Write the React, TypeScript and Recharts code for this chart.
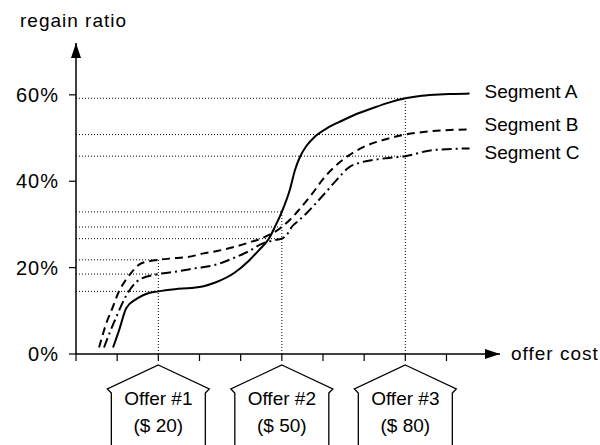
import { LineChart, Line, XAxis, YAxis, ReferenceLine, ReferenceDot, LabelList } from "recharts";

const segmentNames = ["Segment A", "Segment B", "Segment C"];

// offer cost ($) vs regain ratio (%)
const segA = [
  { x: 9, y: 1.5 }, { x: 10.5, y: 5.6 }, { x: 12.2, y: 10.6 }, { x: 14.6, y: 12.7 },
  { x: 17, y: 13.9 }, { x: 20, y: 14.5 }, { x: 24, y: 15.0 }, { x: 28, y: 15.3 },
  { x: 31, y: 15.7 }, { x: 34, y: 16.6 }, { x: 38.5, y: 18.8 }, { x: 42, y: 21.6 },
  { x: 44.4, y: 24 }, { x: 46.8, y: 26.6 }, { x: 48.3, y: 29.4 }, { x: 50, y: 32.9 },
  { x: 52, y: 38.2 }, { x: 53.2, y: 42.6 }, { x: 54.4, y: 45.6 }, { x: 56, y: 48.2 },
  { x: 58, y: 50.3 }, { x: 61, y: 52.3 }, { x: 64.6, y: 54.0 }, { x: 68, y: 55.5 },
  { x: 72, y: 56.9 }, { x: 76, y: 58.2 }, { x: 80, y: 59.2 }, { x: 84, y: 59.8 },
  { x: 88.3, y: 60.1 }, { x: 92, y: 60.2 }, { x: 95.6, y: 60.3 },
];
const segB = [
  { x: 5.6, y: 1.5 }, { x: 6.5, y: 4.5 }, { x: 7.5, y: 7.5 }, { x: 8.5, y: 9.8 },
  { x: 10.5, y: 14.6 }, { x: 12, y: 17 }, { x: 13.4, y: 18.8 }, { x: 15.9, y: 21.0 },
  { x: 20, y: 21.8 }, { x: 24, y: 22.2 }, { x: 28, y: 22.6 }, { x: 31, y: 23.3 },
  { x: 34, y: 23.8 }, { x: 38.5, y: 24.8 }, { x: 42, y: 25.8 }, { x: 45.9, y: 27.1 },
  { x: 50, y: 29.4 }, { x: 52.4, y: 31.5 }, { x: 54.1, y: 33.3 }, { x: 57.3, y: 37.0 },
  { x: 60, y: 40.5 }, { x: 63, y: 43.5 }, { x: 66.3, y: 46 }, { x: 70, y: 48 },
  { x: 74.4, y: 49.5 }, { x: 80, y: 50.8 }, { x: 86.6, y: 51.6 }, { x: 95.6, y: 52 },
];
const segC = [
  { x: 6.8, y: 1.5 }, { x: 8, y: 4.5 }, { x: 9.8, y: 8.6 }, { x: 12.2, y: 13.5 },
  { x: 15.4, y: 17.2 }, { x: 20, y: 18.5 }, { x: 23.7, y: 19.0 }, { x: 29.3, y: 19.9 },
  { x: 33.7, y: 20.6 }, { x: 38.5, y: 22.3 }, { x: 42, y: 23.8 }, { x: 45.1, y: 25.5 },
  { x: 48, y: 26.3 }, { x: 50, y: 26.7 }, { x: 51.5, y: 28 }, { x: 52.4, y: 29.4 },
  { x: 54, y: 30.8 }, { x: 56, y: 32.6 }, { x: 58, y: 34.6 }, { x: 61, y: 37.8 },
  { x: 63.5, y: 40.5 }, { x: 66.3, y: 43.2 }, { x: 69, y: 44.3 }, { x: 72, y: 44.9 },
  { x: 76, y: 45.4 }, { x: 80, y: 45.8 }, { x: 86.6, y: 47.2 }, { x: 95.6, y: 47.6 },
];

const offerCosts = [20, 50, 80];
const offerNames = ["Offer #1", "Offer #2", "Offer #3"];
const offerPrices = ["($ 20)", "($ 50)", "($ 80)"];
// regain ratio of each segment at each offer (dotted guides)
const offerA = [14.5, 32.9, 59.2];
const offerB = [21.8, 29.4, 50.8];
const offerC = [18.5, 26.7, 45.8];

const xTicks = [0, 10, 20, 30, 40, 50, 60, 70, 80, 90];
const yTicks = [0, 20, 40, 60];

const X_MAX = 103;
const Y_MAX = 72;
const FONT = "'Liberation Sans', Arial, sans-serif";

const series = [
  { name: segmentNames[0], data: segA, dash: undefined, dy: 4 },
  { name: segmentNames[1], data: segB, dash: "8 5", dy: 2 },
  { name: segmentNames[2], data: segC, dash: "10 4 2 4", dy: 11 },
];

function OfferBox(props: any) {
  const { cx, cy, name, price } = props;
  const pts = [[0, 11], [51, 35], [47, 39], [47, 92], [-47, 92], [-47, 39], [-51, 35]]
    .map(([dx, dy]) => `${cx + dx},${cy + dy}`)
    .join(" ");
  return (
    <g>
      <polygon points={pts} fill="#fff" stroke="#000" strokeWidth={1.3} />
      <text x={cx} y={cy + 51} textAnchor="middle" fontSize={19} fontFamily={FONT} fill="#000">
        {name}
      </text>
      <text x={cx} y={cy + 78} textAnchor="middle" fontSize={19} fontFamily={FONT} fill="#000">
        {price}
      </text>
    </g>
  );
}

function YArrow(props: any) {
  const { cx, cy } = props;
  return (
    <g>
      <polygon points={`${cx},${cy} ${cx - 5},${cy + 15} ${cx + 5},${cy + 15}`} fill="#000" />
      <text x={cx - 56} y={cy - 16} fontSize={19} letterSpacing={1} fontFamily={FONT} fill="#000">
        regain ratio
      </text>
    </g>
  );
}

function XArrow(props: any) {
  const { cx, cy } = props;
  return (
    <g>
      <polygon points={`${cx},${cy} ${cx - 15},${cy - 5} ${cx - 15},${cy + 5}`} fill="#000" />
      <text x={cx + 11} y={cy + 6} fontSize={19} letterSpacing={1} fontFamily={FONT} fill="#000">
        offer cost
      </text>
    </g>
  );
}

export default function App() {
  const dotted = { stroke: "#000", strokeWidth: 1, strokeDasharray: "1 2" };
  return (
    <div style={{ position: "absolute", left: 0, top: 0, width: 600, height: 445, background: "#fff" }}>
      <LineChart width={600} height={445} margin={{ top: 43, right: 100, bottom: 61, left: 0 }}>
        <XAxis
          type="number"
          dataKey="x"
          domain={[0, X_MAX]}
          ticks={xTicks}
          tickFormatter={() => ""}
          height={30}
          tickSize={7}
          axisLine={{ stroke: "#000", strokeWidth: 1.5 }}
          tickLine={{ stroke: "#000", strokeWidth: 1.2 }}
          allowDataOverflow
        />
        <YAxis
          type="number"
          domain={[0, Y_MAX]}
          ticks={yTicks}
          width={76}
          tickSize={7}
          tickMargin={10}
          tickFormatter={(v) => `${v}%`}
          tick={{ fontSize: 20, fill: "#000", fontFamily: FONT, letterSpacing: 1 }}
          axisLine={{ stroke: "#000", strokeWidth: 1.5 }}
          tickLine={{ stroke: "#000", strokeWidth: 1.2 }}
          allowDataOverflow
        />
        {offerCosts.map((c, i) => {
          const vals = [offerA[i], offerB[i], offerC[i]];
          return [
            <ReferenceLine
              key={`v${i}`}
              segment={[{ x: c, y: 0 }, { x: c, y: Math.max(...vals) }]}
              {...dotted}
            />,
            ...vals.map((v, j) => (
              <ReferenceLine key={`h${i}-${j}`} segment={[{ x: 0, y: v }, { x: c, y: v }]} {...dotted} />
            )),
          ];
        })}
        {series.map((s) => (
          <Line
            key={s.name}
            data={s.data}
            dataKey="y"
            name={s.name}
            type="monotone"
            stroke="#000"
            strokeWidth={2}
            strokeDasharray={s.dash}
            dot={false}
            activeDot={false}
            isAnimationActive={false}
          >
            <LabelList
              dataKey="y"
              content={(p: any) =>
                p.index === s.data.length - 1 ? (
                  <text x={Number(p.x) + 15} y={Number(p.y) + s.dy} fontSize={19} fontFamily={FONT} fill="#000">
                    {s.name}
                  </text>
                ) : null
              }
            />
          </Line>
        ))}
        {offerCosts.map((c, i) => (
          <ReferenceDot
            key={`o${i}`}
            x={c}
            y={0}
            r={0}
            shape={(p: any) => <OfferBox {...p} name={offerNames[i]} price={offerPrices[i]} />}
          />
        ))}
        <ReferenceDot x={0} y={Y_MAX} r={0} shape={(p: any) => <YArrow {...p} />} />
        <ReferenceDot x={X_MAX} y={0} r={0} shape={(p: any) => <XArrow {...p} />} />
      </LineChart>
    </div>
  );
}
